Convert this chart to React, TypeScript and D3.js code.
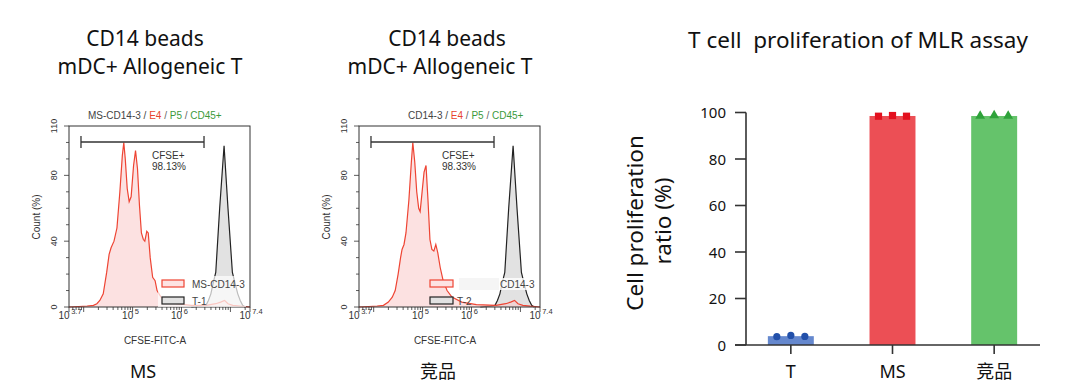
import React from 'react';
import {
  area,
  line,
  range,
  scaleBand,
  scaleLinear,
  scaleLog,
  symbol,
  symbolSquare,
  symbolTriangle,
} from 'd3';

const W = 1080;
const H = 392;

// ---- flow histograms (x in log10 units, y = count %) ----
const msRedExp = [3.7, 3.9, 4.07, 4.2, 4.27, 4.33, 4.4, 4.47, 4.52, 4.56, 4.62, 4.68, 4.74, 4.79, 4.82, 4.85, 4.89, 4.93, 4.97, 5.02, 5.06, 5.1, 5.14, 5.18, 5.22, 5.25, 5.29, 5.32, 5.36, 5.41, 5.46, 5.5, 5.58, 5.7, 5.9, 6.2, 6.5, 6.7, 6.8, 6.88, 6.95, 7.05, 7.2, 7.4];
const msRedCount = [0, 0.3, 0.6, 1, 2, 4, 8, 21, 32, 36, 40, 48, 70, 92, 100, 90, 72, 64, 67, 86, 95, 84, 62, 45, 41, 40, 46, 45, 30, 18, 16, 10, 6, 4, 2, 1, 1, 2, 3, 4, 2, 1, 0.5, 0];
const compRedExp = [3.7, 3.9, 4.07, 4.2, 4.3, 4.38, 4.44, 4.5, 4.55, 4.58, 4.62, 4.66, 4.72, 4.77, 4.8, 4.84, 4.88, 4.92, 4.95, 4.99, 5.03, 5.07, 5.11, 5.15, 5.19, 5.23, 5.27, 5.31, 5.36, 5.42, 5.5, 5.6, 5.8, 6.1, 6.5, 6.7, 6.8, 6.88, 6.95, 7.05, 7.2, 7.4];
const compRedCount = [0, 0.3, 0.6, 1, 3, 6, 10, 20, 30, 35, 38, 45, 65, 88, 100, 88, 70, 60, 58, 70, 82, 86, 65, 41, 35, 34, 38, 33, 24, 16, 10, 6, 3, 1.5, 1, 2, 3, 4, 2, 1, 0.5, 0];
const t1GrayExp = [6.2, 6.4, 6.5, 6.55, 6.6, 6.65, 6.7, 6.78, 6.87, 6.95, 7.04, 7.09, 7.15, 7.2, 7.25, 7.3];
const t1GrayCount = [0, 0.5, 1, 4, 8, 15, 21, 60, 98, 60, 21, 15, 8, 4, 1, 0];
const t2GrayExp = [6.18, 6.38, 6.48, 6.53, 6.58, 6.63, 6.68, 6.76, 6.85, 6.93, 7.02, 7.07, 7.13, 7.18, 7.23, 7.28];
const t2GrayCount = [0, 0.5, 1, 4, 8, 15, 21, 60, 98, 60, 21, 15, 8, 4, 1, 0];

const histYTicks = range(0, 111, 10);
const histYLabels = [0, 40, 80, 110];
const histXLabels = [3.7, 5, 6, 7.4];

// ---- bar chart ----
const groups = ['T', 'MS', '竞品'];
const groupMeans = [3.8, 98.5, 98.5];
const groupPoints = [
  [3.6, 4.1, 3.7],
  [98.4, 98.7, 98.4],
  [98.5, 98.7, 98.5],
];
const barTicks = [0, 20, 40, 60, 80, 100];

const barFill = ['#4a73c6', '#ec4f55', '#65c36b'];
const pointFill = ['#2250aa', '#e3101e', '#2ea23a'];

const HIST_FONT = 'Liberation Sans, Arial, sans-serif';
const TITLE_FONT = 'Noto Sans, Noto Sans CJK SC, sans-serif';

const PLOT_W = 181;
const HT = 126;
const HB = 307;

function Histogram({ x0, red, gray, gatePct, sampleTitle, redLabel, grayLabel, legendMode, bottomLabel, bottomX, titleX }) {
  const x = scaleLog().domain([10 ** 3.7, 10 ** 7.4]).range([x0, x0 + PLOT_W]);
  const y = scaleLinear().domain([0, 110]).range([HB, HT]);
  const pts = (exps, counts) => exps.map((e, i) => [10 ** e, counts[i]]);
  const redPts = pts(red[0], red[1]);
  const grayPts = pts(gray[0], gray[1]);
  const areaGen = area()
    .x((d) => x(d[0]))
    .y0(y(0))
    .y1((d) => y(d[1]));
  const lineGen = line()
    .x((d) => x(d[0]))
    .y((d) => y(d[1]));

  const minorX = [];
  for (let k = 3; k <= 7; k++) {
    for (let m = 1; m <= 9; m++) {
      const v = m * 10 ** k;
      if (v >= 10 ** 3.7 && v <= 10 ** 7.4) minorX.push(v);
    }
  }

  const gx0 = x(10 ** 3.945);
  const gx1 = x(10 ** 6.46);
  const gy = 142;

  return (
    <g fontFamily={HIST_FONT}>
      {/* title */}
      <text x={titleX} y={119} fontSize={10} fill="#444">
        {sampleTitle} /{' '}
        <tspan fill="#e8452f">E4</tspan>
        <tspan fill="#666"> / </tspan>
        <tspan fill="#3c9a3c">P5</tspan>
        <tspan fill="#666"> / </tspan>
        <tspan fill="#3c9a3c">CD45+</tspan>
      </text>

      {/* histograms */}
      <path d={areaGen(grayPts)} fill="#e2e2e2" />
      <path d={lineGen(grayPts)} fill="none" stroke="#222" strokeWidth={1.2} />
      <path d={areaGen(redPts)} fill="#f9c9c9" fillOpacity={0.55} />
      <path d={lineGen(redPts)} fill="none" stroke="#ee4433" strokeWidth={1.2} />

      {/* frame */}
      <rect x={x0} y={HT} width={PLOT_W} height={HB - HT} fill="none" stroke="#333" strokeWidth={1} />

      {/* y axis */}
      {histYTicks.map((t) => {
        const major = histYLabels.includes(t);
        return <line key={t} x1={x0} x2={x0 - (major ? 5 : 3)} y1={y(t)} y2={y(t)} stroke="#333" strokeWidth={0.8} />;
      })}
      {histYLabels.map((t) => (
        <text key={t} transform={`translate(${x0 - 12},${y(t)}) rotate(-90)`} textAnchor="middle" fontSize={9} fill="#333">
          {t}
        </text>
      ))}
      <text transform={`translate(${x0 - 29},217) rotate(-90)`} textAnchor="middle" fontSize={10} fill="#333">
        Count (%)
      </text>

      {/* x axis */}
      {minorX.map((v) => {
        const major = [1e4, 1e5, 1e6, 1e7].includes(v);
        return <line key={v} x1={x(v)} x2={x(v)} y1={HB} y2={HB + (major ? 5 : 3)} stroke="#333" strokeWidth={0.8} />;
      })}
      {[3.7, 7.4].map((e) => (
        <line key={e} x1={x(10 ** e)} x2={x(10 ** e)} y1={HB} y2={HB + 5} stroke="#333" strokeWidth={0.8} />
      ))}
      {histXLabels.map((e) => (
        <text key={e} x={x(10 ** e) - 10.5} y={319} fontSize={10} fill="#333">
          10
          <tspan dx={1.5} dy={-5.5} fontSize={7.5}>
            {e}
          </tspan>
        </text>
      ))}
      <text x={x0 + 86} y={344} textAnchor="middle" fontSize={10} fill="#333">
        CFSE-FITC-A
      </text>

      {/* gate */}
      <line x1={gx0} x2={gx1} y1={gy} y2={gy} stroke="#333" strokeWidth={1.3} />
      <line x1={gx0} x2={gx0} y1={gy - 6} y2={gy + 6} stroke="#333" strokeWidth={1.3} />
      <line x1={gx1} x2={gx1} y1={gy - 6} y2={gy + 6} stroke="#333" strokeWidth={1.3} />
      <text x={x0 + 83} y={159} fontSize={10} fill="#333">
        CFSE+
      </text>
      <text x={x0 + 83} y={170} fontSize={10} fill="#333">
        {gatePct}
      </text>

      {/* legend */}
      {legendMode === 'ms' ? (
        <g>
          <rect x={x0 + 89} y={276} width={88} height={31} fill="#fff" fillOpacity={0.7} />
          <rect x={x0 + 93} y={280} width={22} height={7} fill="#fde3e3" stroke="#ee4433" strokeWidth={1.2} />
          <rect x={x0 + 93} y={297} width={22} height={7} fill="#e2e2e2" stroke="#222" strokeWidth={1.2} />
          <text x={x0 + 123} y={288} fontSize={10} fill="#444">{redLabel}</text>
          <text x={x0 + 123} y={305} fontSize={10} fill="#444">{grayLabel}</text>
        </g>
      ) : (
        <g>
          <rect x={x0 + 100} y={278} width={40} height={12} fill="#f3f3f3" fillOpacity={0.85} />
          <rect x={x0 + 140} y={278} width={30} height={12} fill="#fff" fillOpacity={0.8} />
          <rect x={x0 + 71} y={280} width={23} height={7} fill="#fde3e3" stroke="#ee4433" strokeWidth={1.2} />
          <rect x={x0 + 71} y={297} width={23} height={7} fill="#e2e2e2" stroke="#222" strokeWidth={1.2} />
          <text x={x0 + 141} y={288} fontSize={10} fill="#444">{redLabel}</text>
          <text x={x0 + 98} y={305} fontSize={10} fill="#444">{grayLabel}</text>
        </g>
      )}

      <text x={bottomX} y={378} textAnchor="middle" fontSize={18} fontFamily={TITLE_FONT} fill="#111">
        {bottomLabel}
      </text>
    </g>
  );
}

function BarChart() {
  const y = scaleLinear().domain([0, 100]).range([345, 112.5]);
  const x = scaleBand().domain(groups).range([740, 1045]).paddingInner(0.548).paddingOuter(0.274);
  const bw = x.bandwidth();
  const offsets = [-14, 0, 14];
  const sq = symbol().type(symbolSquare).size(52)();
  const tri = symbol().type(symbolTriangle).size(42)();

  return (
    <g fontFamily={TITLE_FONT}>
      <text x={858} y={48} textAnchor="middle" fontSize={22.5} fill="#111" style={{ whiteSpace: 'pre' }}>
        T cell  proliferation of MLR assay
      </text>

      {groups.map((g, i) => (
        <rect
          key={g}
          x={x(g)}
          y={y(groupMeans[i])}
          width={bw}
          height={y(0) - y(groupMeans[i])}
          fill={barFill[i]}
          fillOpacity={i === 0 ? 0.85 : 1}
        />
      ))}

      {groups.map((g, i) =>
        groupPoints[i].map((v, j) => {
          const cx = x(g) + bw / 2 + offsets[j];
          const cy = y(v);
          if (i === 0) return <circle key={`${g}${j}`} cx={cx} cy={cy} r={3.6} fill={pointFill[i]} />;
          return (
            <path
              key={`${g}${j}`}
              d={i === 1 ? sq : tri}
              transform={`translate(${cx},${cy})`}
              fill={pointFill[i]}
            />
          );
        })
      )}

      {/* y axis */}
      <line x1={746} x2={746} y1={y(0)} y2={y(100)} stroke="#333" strokeWidth={1.6} />
      {barTicks.map((t) => (
        <g key={t}>
          <line x1={735} x2={746} y1={y(t)} y2={y(t)} stroke="#333" strokeWidth={1.6} />
          <text x={726} y={y(t) + 5.5} textAnchor="end" fontSize={15} fill="#111">
            {t}
          </text>
        </g>
      ))}
      <text transform="translate(643,223) rotate(-90)" textAnchor="middle" fontSize={22.5} fill="#111">
        Cell proliferation
      </text>
      <text transform="translate(671,221) rotate(-90)" textAnchor="middle" fontSize={22.5} fill="#111">
        ratio (%)
      </text>

      {/* x axis */}
      <line x1={735} x2={1040} y1={y(0)} y2={y(0)} stroke="#333" strokeWidth={1.6} />
      {groups.map((g) => (
        <g key={g}>
          <line x1={x(g) + bw / 2} x2={x(g) + bw / 2} y1={y(0)} y2={y(0) + 9} stroke="#333" strokeWidth={1.6} />
          <text x={x(g) + bw / 2} y={378} textAnchor="middle" fontSize={18} fill="#111">
            {g}
          </text>
        </g>
      ))}
    </g>
  );
}

export default function App() {
  return (
    <svg width={W} height={H} style={{ position: 'absolute', left: 0, top: 0, background: '#fff' }}>
      <rect width={W} height={H} fill="#fff" />
      <g fontFamily={TITLE_FONT} fill="#111" fontSize={21}>
        <text x={145} y={46} textAnchor="middle">CD14 beads</text>
        <text x={150} y={74} textAnchor="middle">mDC+ Allogeneic T</text>
        <text x={447} y={46} textAnchor="middle">CD14 beads</text>
        <text x={440} y={74} textAnchor="middle">mDC+ Allogeneic T</text>
      </g>
      <Histogram
        x0={69}
        red={[msRedExp, msRedCount]}
        gray={[t1GrayExp, t1GrayCount]}
        gatePct="98.13%"
        sampleTitle="MS-CD14-3"
        redLabel="MS-CD14-3"
        grayLabel="T-1"
        legendMode="ms"
        bottomLabel="MS"
        bottomX={143}
        titleX={88}
      />
      <Histogram
        x0={359}
        red={[compRedExp, compRedCount]}
        gray={[t2GrayExp, t2GrayCount]}
        gatePct="98.33%"
        sampleTitle="CD14-3"
        redLabel="CD14-3"
        grayLabel="T-2"
        legendMode="comp"
        bottomLabel="竞品"
        bottomX={438}
        titleX={408}
      />
      <BarChart />
    </svg>
  );
}
